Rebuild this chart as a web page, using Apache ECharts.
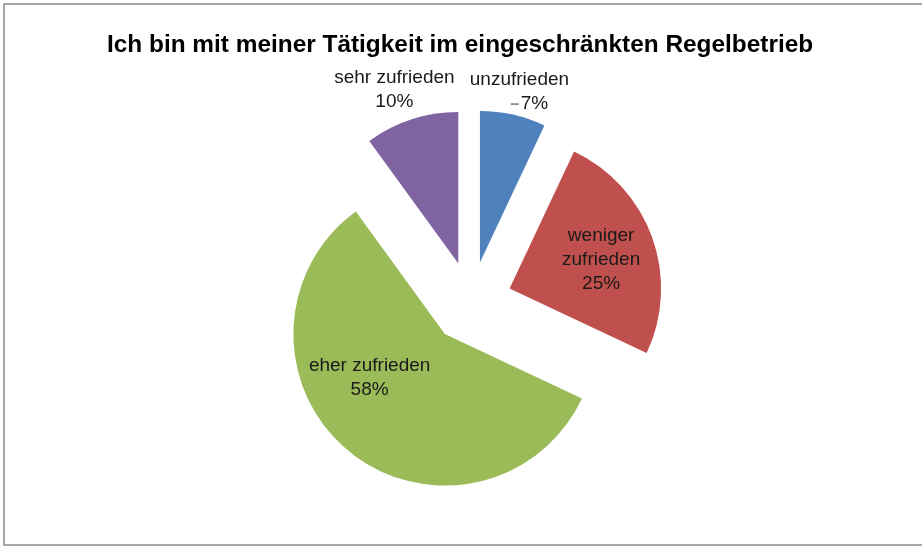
<!DOCTYPE html>
<html>
<head>
<meta charset="utf-8">
<script src="https://cdn.jsdelivr.net/npm/echarts@6/dist/echarts.min.js"></script>
<style>
  html, body { margin: 0; padding: 0; background: #fff; }
  #showChart { width: 922px; height: 546px; }
</style>
</head>
<body>
<div id="showChart"></div>
<script>
const titleText = "Ich bin mit meiner Tätigkeit im eingeschränkten Regelbetrieb";
const categories = ["unzufrieden", "weniger\nzufrieden", "eher zufrieden", "sehr zufrieden"];
const values = [7, 25, 58, 10];
const colors = ["#4F81BD", "#C0504D", "#9BBB59", "#8064A2"];

// 绘制图表
let myChart = echarts.init(document.getElementById("showChart"));

// how far each slice is pulled out
const explode = [39, 43, 42, 39];

// where the centre of each label block should sit
const labelCenter = [
  [519, 94],
  [603, 259],
  [369, 379],
  [395, 92],
];

// labelRect comes without the explode shift, so work it out here
const total = values.reduce(function (a, b) { return a + b; }, 0);
let acc = 0;
const shift = values.map(function (v, i) {
  const mid = ((acc + v / 2) / total) * Math.PI * 2;
  acc += v;
  return [explode[i] * Math.sin(mid), -explode[i] * Math.cos(mid)];
});

let data = values.map(function (v, i) {
  let item = {
    name: categories[i],
    value: v,
    selected: true,
    selectedOffset: explode[i],
    itemStyle: { color: colors[i] },
    label: { position: i === 0 || i === 3 ? "outside" : "inside" },
    labelLine: { show: false },
  };
  if (i === 0) {
    // small leader dash in front of the percentage
    item.label.formatter = "{t|{b}}\n{e|}{d|}{p|{c}%}";
  }
  return item;
});

const txt = {
  fontFamily: "Liberation Sans",
  fontSize: 19,
  lineHeight: 24,
  color: "#1a1a1a",
};

let option = {
  animation: false,
  title: {
    text: titleText,
    left: 102,
    top: 28,
    textStyle: {
      fontFamily: "Liberation Sans",
      fontWeight: "bold",
      fontSize: 24.4,
      color: "#000",
    },
  },
  graphic: [
    {
      type: "rect",
      shape: { x: 4, y: 4, width: 940, height: 541 },
      style: { fill: "none", stroke: "#8a8a8a", lineWidth: 1.5 },
      silent: true,
    },
  ],
  series: [
    {
      name: "Tätigkeit",
      type: "pie",
      center: [471, 302.5],
      radius: [0, 151.5],
      startAngle: 90,
      clockwise: true,
      selectedMode: "multiple",
      selectedOffset: 41,
      avoidLabelOverlap: false,
      emphasis: { disabled: true },
      label: {
        formatter: "{t|{b}}\n{t|{c}%}",
        rich: {
          t: Object.assign({ width: 150, align: "center" }, txt),
          p: Object.assign({ align: "center", padding: [0, 0, 0, 2] }, txt),
          e: { width: 20, height: 1, align: "center" },
          d: { width: 8, height: 1, align: "center", backgroundColor: "#333" },
        },
      },
      labelLayout: function (params) {
        const i = params.dataIndex;
        const c = labelCenter[i];
        const r = params.labelRect;
        return {
          dx: c[0] - (r.x + r.width / 2) - shift[i][0],
          dy: c[1] - (r.y + r.height / 2) - shift[i][1],
        };
      },
      data: data,
    },
  ],
};
myChart.setOption(option);
</script>
</body>
</html>
